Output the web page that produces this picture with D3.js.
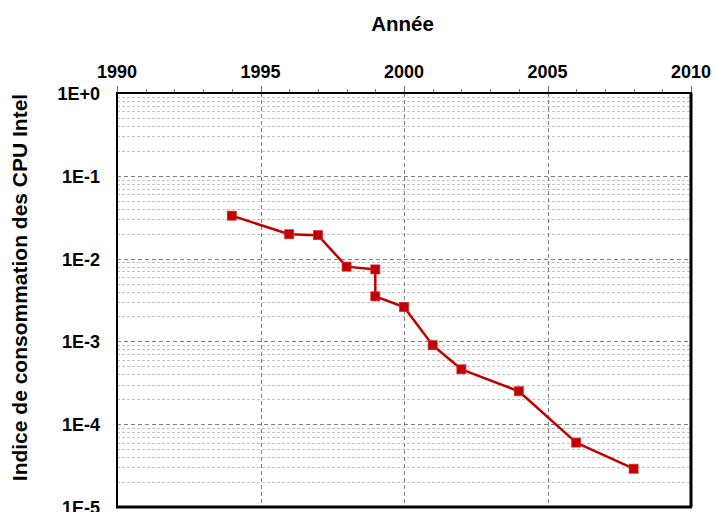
<!DOCTYPE html>
<html><head><meta charset="utf-8">
<script src="https://cdn.jsdelivr.net/npm/d3@7"></script>
<style>body{margin:0;background:#fff}svg{display:block}text{font-family:"Liberation Sans",Arial,sans-serif;font-weight:bold;fill:#000}</style>
</head><body>
<script>
const years = [1994, 1996, 1997, 1998, 1999, 1999, 2000, 2001, 2002, 2004, 2006, 2008];
const values = [0.033, 0.0197, 0.0192, 0.0080, 0.0074, 0.0035, 0.0026, 0.0009, 0.00046, 0.00025, 0.00006, 0.000029];
const xTicks = [1990, 1995, 2000, 2005, 2010];
const yTicks = [1, 1e-1, 1e-2, 1e-3, 1e-4, 1e-5];
const yTickLabels = ["1E+0", "1E-1", "1E-2", "1E-3", "1E-4", "1E-5"];
const xTitle = "Année";
const yTitle = "Indice de consommation des CPU Intel";

const W = 715, H = 512;
const L = 117, R = 691, T = 93, B = 507;
const svg = d3.select("body").append("svg").attr("width", W).attr("height", H);
const x = d3.scaleLinear().domain([1990, 2010]).range([L, R]);
const y = d3.scaleLog().domain([1e-5, 1]).range([B, T]);

// minor horizontal grid
const minor = [];
for (let e = -5; e < 0; e++) for (let m = 2; m <= 9; m++) minor.push(m * Math.pow(10, e));
svg.append("g").selectAll("line").data(minor).join("line")
  .attr("x1", L).attr("x2", R).attr("y1", d => Math.round(y(d)) + 0.5).attr("y2", d => Math.round(y(d)) + 0.5)
  .attr("stroke", "#c4c4c4").attr("stroke-width", 1).attr("stroke-dasharray", "3,2");
// major horizontal grid
svg.append("g").selectAll("line").data(yTicks.slice(1, 5)).join("line")
  .attr("x1", L).attr("x2", R).attr("y1", d => Math.round(y(d)) + 0.5).attr("y2", d => Math.round(y(d)) + 0.5)
  .attr("stroke", "#808080").attr("stroke-width", 1).attr("stroke-dasharray", "4,3");
// vertical grid
svg.append("g").selectAll("line").data(xTicks.slice(1, 4)).join("line")
  .attr("x1", d => Math.round(x(d)) + 0.5).attr("x2", d => Math.round(x(d)) + 0.5).attr("y1", T).attr("y2", B)
  .attr("stroke", "#808080").attr("stroke-width", 1).attr("stroke-dasharray", "4,3");

// top axis ticks (years)
const yrs = d3.range(1990, 2011);
svg.append("g").selectAll("line").data(yrs).join("line")
  .attr("x1", d => Math.round(x(d)) + 0.5).attr("x2", d => Math.round(x(d)) + 0.5)
  .attr("y1", T).attr("y2", d => d % 5 === 0 ? T - 7 : T - 4)
  .attr("stroke", "#777").attr("stroke-width", 1);

// frame
svg.append("line").attr("x1", L - 1).attr("x2", R + 1).attr("y1", T).attr("y2", T).attr("stroke", "#000").attr("stroke-width", 2);
svg.append("line").attr("x1", L - 1).attr("x2", R + 1).attr("y1", B).attr("y2", B).attr("stroke", "#000").attr("stroke-width", 3);
svg.append("line").attr("x1", L).attr("x2", L).attr("y1", T).attr("y2", B).attr("stroke", "#000").attr("stroke-width", 2);
svg.append("line").attr("x1", R).attr("x2", R).attr("y1", T).attr("y2", B).attr("stroke", "#000").attr("stroke-width", 3);

// x tick labels
svg.append("g").selectAll("text").data(xTicks).join("text")
  .attr("x", d => x(d)).attr("y", 77.5).attr("text-anchor", "middle").attr("font-size", 18).text(d => d);
// y tick labels
svg.append("g").selectAll("text").data(yTicks).join("text")
  .attr("x", 100).attr("y", d => y(d) + 7).attr("text-anchor", "end").attr("font-size", 18)
  .text((d, i) => yTickLabels[i]);

// titles
svg.append("text").attr("x", 402.5).attr("y", 31).attr("text-anchor", "middle").attr("font-size", 20.5).text(xTitle);
svg.append("text").attr("transform", `translate(27,287.5) rotate(-90)`).attr("text-anchor", "middle").attr("font-size", 21).text(yTitle);

// data
const pts = years.map((yr, i) => [yr, values[i]]);
svg.append("path").datum(pts)
  .attr("d", d3.line().x(d => x(d[0])).y(d => y(d[1])))
  .attr("fill", "none").attr("stroke", "#c00000").attr("stroke-width", 2.5).attr("stroke-linejoin", "round");
svg.append("g").selectAll("rect").data(pts).join("rect")
  .attr("x", d => x(d[0]) - 4.5).attr("y", d => y(d[1]) - 4.5).attr("width", 9).attr("height", 9)
  .attr("fill", "#c00000").attr("stroke", "#d42a2a").attr("stroke-width", 0.8);
</script>
</body></html>
